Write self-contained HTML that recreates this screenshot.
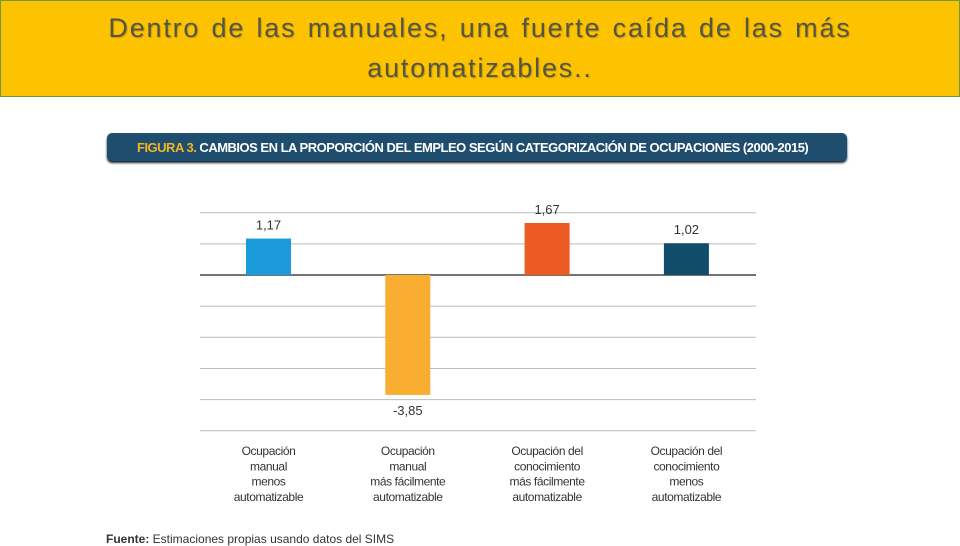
<!DOCTYPE html>
<html><head><meta charset="utf-8">
<style>
html,body{margin:0;padding:0;width:960px;height:540px;overflow:hidden;background:#fff;font-family:"Liberation Sans",sans-serif;}
#banner{position:absolute;left:0;top:0;width:958px;height:95px;background:#FDC300;border:1px solid #6a9a3a;}
#title{position:absolute;left:0;top:8px;width:960px;text-align:center;font-size:27px;line-height:40px;color:#555545;text-shadow:1px 1px 1px rgba(0,0,0,0.2);letter-spacing:1.8px;word-spacing:2px;}
#fig-head{position:absolute;left:107px;top:133px;width:740px;height:28px;background:#1e4d6e;border-radius:5px;box-shadow:0 2px 2px #123;color:#fff;font-size:13px;line-height:29px;padding-left:30px;box-sizing:border-box;letter-spacing:-0.5px;font-weight:bold;}
#fig-head span{color:#f0b429;}
#source{position:absolute;left:106px;top:532px;font-size:12px;color:#333;}
</style></head><body>
<div id="banner"></div>
<div id="title">Dentro de las manuales, una fuerte caída de las más<br>automatizables..</div>
<div id="fig-head"><span>FIGURA 3.</span> CAMBIOS EN LA PROPORCIÓN DEL EMPLEO SEGÚN CATEGORIZACIÓN DE OCUPACIONES (2000-2015)</div>
<svg id="chart" width="960" height="540" style="position:absolute;left:0;top:0"></svg>
<div id="source"><b>Fuente:</b> Estimaciones propias usando datos del SIMS</div>
<script>
const categories=[["Ocupación","manual","menos","automatizable"],["Ocupación","manual","más fácilmente","automatizable"],["Ocupación del","conocimiento","más fácilmente","automatizable"],["Ocupación del","conocimiento","menos","automatizable"]];
const values=[1.17,-3.85,1.67,1.02];
const valueLabels=["1,17","-3,85","1,67","1,02"];
const colors=["#1a9ad8","#f9ae32","#ee5a24","#0f4d6b"];
const gridTicks=[2,1,0,-1,-2,-3,-4,-5];
const NS="http://www.w3.org/2000/svg";
const svg=document.getElementById('chart');
const y=v=>275-v*31.15;
const x=i=>268.5+i*139.3;
const bw=45;
function mk(tag,attrs){const e=document.createElementNS(NS,tag);for(const k in attrs)e.setAttribute(k,attrs[k]);svg.appendChild(e);return e;}
gridTicks.forEach(t=>{
  const l=mk('line',{x1:200,x2:756,y1:y(t),y2:y(t),stroke:t===0?'#222':'#bbb','stroke-width':t===0?1.2:1});
  
  
});
values.forEach((v,i)=>{
  const top=Math.min(y(v),y(0)),h=Math.abs(y(v)-y(0));
  const r=mk('rect',{x:x(i)-bw/2,y:top,width:bw,height:h,fill:colors[i]});
  
  
  const ty=v>=0?y(v)-9:y(v)+20;
  const t=mk('text',{x:x(i),y:ty,'text-anchor':'middle','font-size':13,fill:'#333','font-family':'Liberation Sans, sans-serif'});
  t.textContent=valueLabels[i];
  
  
  categories[i].forEach((s,j)=>{
    const c=mk('text',{x:x(i),y:455+j*15.3,'text-anchor':'middle','font-size':12,fill:'#333','font-family':'Liberation Sans, sans-serif','letter-spacing':'-0.4'});
    c.textContent=s;
    
    
  });
});
</script>
</body></html>
